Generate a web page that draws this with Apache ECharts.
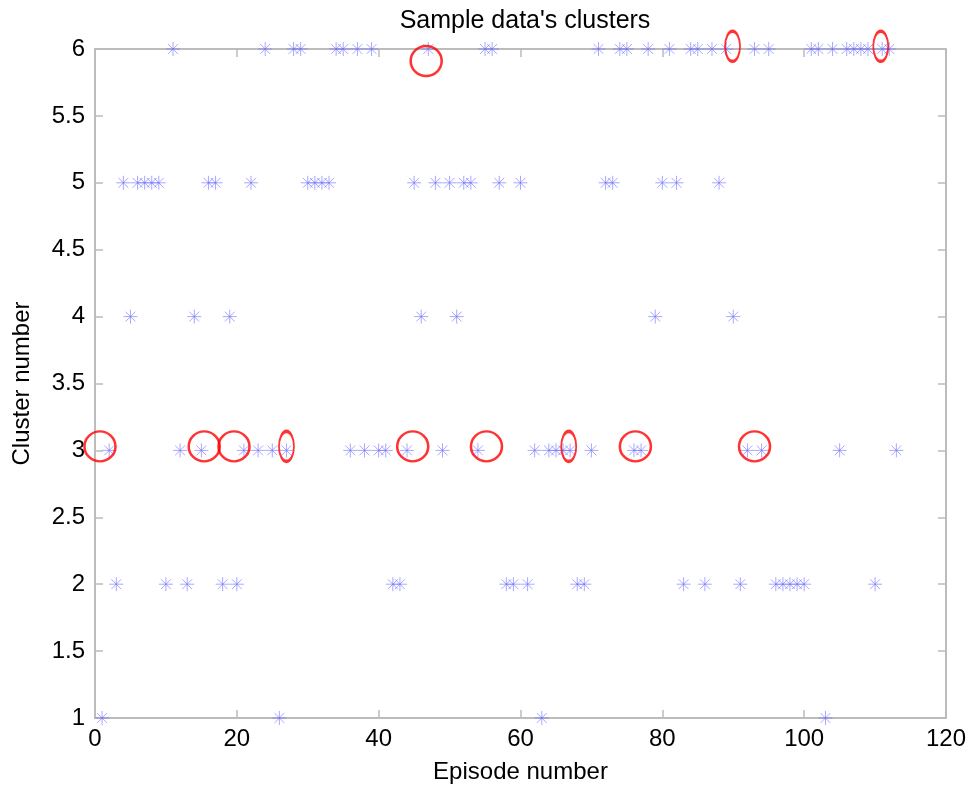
<!DOCTYPE html>
<html>
<head>
<meta charset="utf-8">
<script src="https://cdn.jsdelivr.net/npm/echarts@6/dist/echarts.min.js"></script>
<style>
html,body{margin:0;padding:0;background:#fff;}
#chart{width:972px;height:789px;}
</style>
</head>
<body>
<div id="chart"></div>
<script>
// Episode numbers assigned to each cluster
const cluster1 = [1, 26, 63, 103];
const cluster2 = [3, 10, 13, 18, 20, 42, 43, 58, 59, 61, 68, 69, 83, 86, 91, 96, 97, 98, 99, 100, 110];
const cluster3 = [2, 12, 15, 21, 23, 25, 27, 36, 38, 40, 41, 44, 49, 54, 62, 64, 65, 66, 67, 70, 76, 77, 92, 94, 105, 113];
const cluster4 = [5, 14, 19, 46, 51, 79, 90];
const cluster5 = [4, 6, 7, 8, 9, 16, 17, 22, 30, 31, 32, 33, 45, 48, 50, 52, 53, 57, 60, 72, 73, 80, 82, 88];
const cluster6 = [11, 24, 28, 29, 34, 35, 37, 39, 47, 55, 56, 71, 74, 75, 78, 81, 84, 85, 87, 89, 93, 95, 101, 102, 104, 106, 107, 108, 109, 111, 112];

// Red annotation marks (episode, cluster)
const circleMarks = [[0.7, 3.03], [15.4, 3.03], [19.6, 3.03], [44.8, 3.03], [55.2, 3.03], [76.2, 3.03], [93.0, 3.03], [46.7, 5.91]];
const ovalMarks = [[27.0, 3.03], [66.8, 3.03], [89.9, 6.02], [110.8, 6.02]];

const xTicks = { min: 0, max: 120, interval: 20 };
const yTicks = { min: 1, max: 6, interval: 0.5 };

const clusters = [cluster1, cluster2, cluster3, cluster4, cluster5, cluster6];
const points = [];
clusters.forEach((eps, i) => eps.forEach(e => points.push([e, i + 1])));

const starPath = 'path://M0,-10 L0,10 M-10,0 L10,0 M-7,-7 L7,7 M-7,7 L7,-7';
const font = 'Liberation Sans, Arial, sans-serif';
const axisColor = '#bcbcbc';

const chart = echarts.init(document.getElementById('chart'));
chart.setOption({
  animation: false,
  backgroundColor: '#fff',
  title: {
    text: "Sample data's clusters",
    left: 520, top: 4, textAlign: 'center',
    textStyle: { fontFamily: font, fontSize: 25, fontWeight: 'normal', color: '#000' }
  },
  grid: { left: 95, right: 26, top: 49, bottom: 71 },
  xAxis: [{
    type: 'value', min: xTicks.min, max: xTicks.max, interval: xTicks.interval,
    name: 'Episode number', nameLocation: 'middle', nameGap: 42,
    nameTextStyle: { fontFamily: font, fontSize: 24, color: '#000' },
    axisLine: { show: true, onZero: false, lineStyle: { color: axisColor, width: 2 } },
    axisTick: { show: true, inside: true, length: 8, lineStyle: { color: axisColor, width: 1.5 } },
    axisLabel: { fontFamily: font, fontSize: 24, color: '#000', margin: 9 },
    splitLine: { show: false }
  }, {
    type: 'value', position: 'top', min: xTicks.min, max: xTicks.max, interval: xTicks.interval,
    axisLine: { show: true, onZero: false, lineStyle: { color: axisColor, width: 2 } },
    axisTick: { show: true, inside: true, length: 8, lineStyle: { color: axisColor, width: 1.5 } },
    axisLabel: { show: false }, splitLine: { show: false }
  }],
  yAxis: [{
    type: 'value', min: yTicks.min, max: yTicks.max, interval: yTicks.interval,
    name: 'Cluster number', nameLocation: 'middle', nameGap: 61,
    nameTextStyle: { fontFamily: font, fontSize: 24, color: '#000' },
    axisLine: { show: true, onZero: false, lineStyle: { color: axisColor, width: 2 } },
    axisTick: { show: true, inside: true, length: 8, lineStyle: { color: axisColor, width: 1.5 } },
    axisLabel: { fontFamily: font, fontSize: 24, color: '#000', margin: 10 },
    splitLine: { show: false }
  }, {
    type: 'value', position: 'right', min: yTicks.min, max: yTicks.max, interval: yTicks.interval,
    axisLine: { show: true, onZero: false, lineStyle: { color: axisColor, width: 2 } },
    axisTick: { show: true, inside: true, length: 8, lineStyle: { color: axisColor, width: 1.5 } },
    axisLabel: { show: false }, splitLine: { show: false }
  }],
  series: [{
    type: 'scatter',
    data: points,
    symbol: starPath,
    symbolSize: 14,
    itemStyle: { color: 'rgba(0,0,0,0)', borderColor: 'rgba(110,110,255,0.75)', borderWidth: 1 },
    clip: false,
    z: 2
  }, {
    type: 'scatter',
    data: circleMarks,
    symbol: 'circle',
    symbolSize: [31, 30],
    itemStyle: { color: 'rgba(0,0,0,0)', borderColor: '#ff0000', borderWidth: 2.5 },
    clip: false,
    z: 3
  }, {
    type: 'scatter',
    data: ovalMarks,
    symbol: 'circle',
    symbolSize: [15, 30],
    itemStyle: { color: 'rgba(0,0,0,0)', borderColor: '#ff0000', borderWidth: 2.5 },
    clip: false,
    z: 3
  }]
});
</script>
</body>
</html>
